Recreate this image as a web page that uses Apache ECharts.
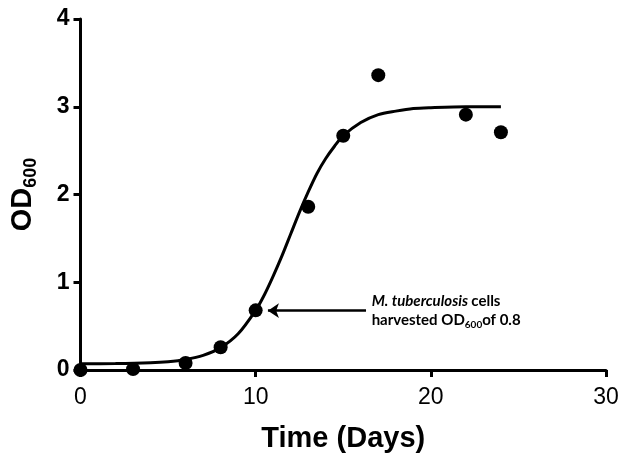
<!DOCTYPE html>
<html>
<head>
<meta charset="utf-8">
<script src="https://cdn.jsdelivr.net/npm/echarts@6/dist/echarts.min.js"></script>
<style>
html,body{margin:0;padding:0;background:#fff;}
#c{width:630px;height:462px;}
</style>
</head>
<body>
<div id="c"></div>
<script>
// Measured data points
const days = [0, 3, 6, 8, 10, 13, 15, 17, 22, 24];
const od600 = [0.0, 0.01, 0.08, 0.26, 0.68, 1.86, 2.67, 3.36, 2.91, 2.71];
// Fitted growth curve
const fitDays = [0, 2, 4, 5, 6, 7, 8, 9, 10, 10.5, 11, 11.5, 12, 12.5, 13, 13.5, 14, 14.5, 15, 16, 17, 18, 19, 20, 22, 24];
const fitOD = [0.07, 0.073, 0.083, 0.095, 0.12, 0.166, 0.255, 0.413, 0.68, 0.858, 1.07, 1.30, 1.55, 1.80, 2.03, 2.24, 2.41, 2.55, 2.67, 2.82, 2.91, 2.95, 2.98, 2.99, 3.0, 3.0];
const xTicks = [0, 10, 20, 30];
const yTicks = [0, 1, 2, 3, 4];
// Annotation (arrow from -> to, text anchor) in data units
const arrowFrom = [16.3, 0.676];
const arrowTo = [10.7, 0.676];
const noteAnchor = [16.62, 0.676];

const chart = echarts.init(document.getElementById('c'));
const font = 'Liberation Sans, Arial, sans-serif';
chart.setOption({
  animation: false,
  backgroundColor: '#fff',
  grid: {left: 77, right: 24, top: 19, bottom: 92, containLabel: false},
  xAxis: {
    type: 'value', min: xTicks[0], max: xTicks[xTicks.length - 1], interval: 10,
    name: 'Time (Days)', nameLocation: 'middle', nameGap: 54,
    nameTextStyle: {fontFamily: font, fontSize: 29, fontWeight: 'bold', color: '#000'},
    axisLine: {show: true, lineStyle: {color: '#000', width: 3}},
    axisTick: {show: true, length: 7, lineStyle: {color: '#000', width: 3}},
    axisLabel: {fontFamily: font, fontSize: 23, color: '#000', margin: 16},
    splitLine: {show: false}
  },
  yAxis: {
    type: 'value', min: yTicks[0], max: yTicks[yTicks.length - 1], interval: 1,
    name: '{a|OD}{b|600}', nameLocation: 'middle', nameGap: 40, nameRotate: 90,
    nameTextStyle: {
      fontFamily: font, color: '#000',
      rich: {
        a: {fontFamily: font, fontSize: 29, fontWeight: 'bold', color: '#000', lineHeight: 36, verticalAlign: 'middle'},
        b: {fontFamily: font, fontSize: 18, fontWeight: 'bold', color: '#000', lineHeight: 16, verticalAlign: 'bottom'}
      }
    },
    axisLine: {show: true, lineStyle: {color: '#000', width: 3}},
    axisTick: {show: true, length: 7, lineStyle: {color: '#000', width: 3}},
    axisLabel: {fontFamily: font, fontSize: 23, fontWeight: 'bold', color: '#000', margin: 11},
    splitLine: {show: false}
  },
  series: [
    {
      type: 'line',
      data: fitDays.map((d, i) => [d, fitOD[i]]),
      smooth: 0.3, showSymbol: false, symbol: 'none',
      lineStyle: {color: '#000', width: 3},
      z: 2,
      markLine: {
        silent: true, animation: false,
        symbol: ['none', 'arrow'], symbolSize: 11,
        lineStyle: {color: '#000', width: 2.5, type: 'solid'},
        label: {show: false},
        data: [[{coord: arrowFrom}, {coord: arrowTo}]]
      }
    },
    {
      type: 'scatter',
      data: days.map((d, i) => [d, od600[i]]),
      symbol: 'circle', symbolSize: 14,
      itemStyle: {color: '#000', opacity: 1},
      z: 3
    }
  ]
});
const p = chart.convertToPixel({gridIndex: 0}, noteAnchor);
chart.setOption({
  graphic: [{
    type: 'text', x: p[0], y: p[1],
    style: {
      text: '{i|M. tuberculosis} {b|cells}\n{b|harvested OD}{s|600}{b|of 0.8}',
      align: 'left', verticalAlign: 'middle',
      rich: {
        i: {fontFamily: 'Lato, sans-serif', fontSize: 15, fontWeight: 'bold', fontStyle: 'italic', fill: '#000', lineHeight: 19},
        b: {fontFamily: 'Lato, sans-serif', fontSize: 15, fontWeight: 'bold', fill: '#000', lineHeight: 19},
        s: {fontFamily: 'Lato, sans-serif', fontSize: 10, fontWeight: 'bold', fill: '#000', lineHeight: 11, verticalAlign: 'bottom'}
      }
    }
  }]
});
</script>
</body>
</html>
